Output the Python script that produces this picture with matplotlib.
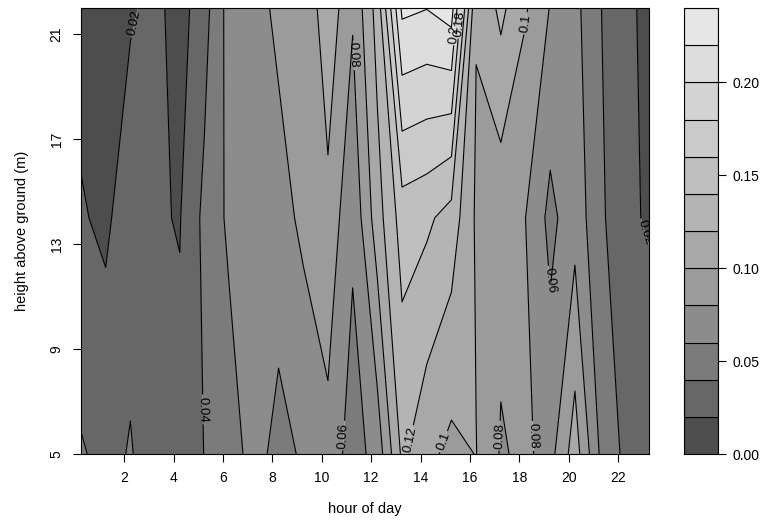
import numpy as np
import matplotlib
matplotlib.use("Agg")
import matplotlib.pyplot as plt

plt.rcParams["font.family"] = ["Liberation Sans", "DejaVu Sans"]

# grid: one column per hour, three measuring heights
hours = np.arange(24) + 0.25
heights = np.array([5.0, 14.0, 22.0])

z_5m = [0.0419, 0.0343, 0.0413, 0.030, 0.0258, 0.0405, 0.050, 0.0679, 0.0532, 0.0627,
        0.0737, 0.0505, 0.068, 0.1237, 0.1053, 0.0947, 0.1005, 0.0783, 0.0834, 0.073,
        0.110, 0.059, 0.036, 0.0355]
z_14m = [0.0218, 0.0162, 0.032, 0.022, 0.019, 0.045, 0.064, 0.070, 0.0719, 0.0844,
         0.094, 0.064, 0.111, 0.149, 0.144, 0.1316, 0.0973, 0.086, 0.080, 0.0544,
         0.0725, 0.045, 0.024, 0.018]
z_22m = [0.0132, 0.010, 0.0177, 0.0254, 0.0116, 0.0326, 0.0678, 0.072, 0.0846, 0.082,
         0.114, 0.0824, 0.128, 0.224, 0.2205, 0.229, 0.101, 0.125, 0.102, 0.079,
         0.066, 0.041, 0.028, 0.012]

levels = np.round(np.arange(0, 0.2401, 0.02), 2)
key_ticks = [0.00, 0.05, 0.10, 0.15, 0.20]
x_ticks = list(range(2, 24, 2))
y_ticks = [5, 9, 13, 17, 21]

# where the contour labels sit (data coordinates)
label_spots = [(2.56, 21.4), (11.25, 20.2), (15.45, 21.0), (15.62, 21.4), (18.4, 21.4),
               (22.96, 13.4), (19.1, 11.6), (5.18, 6.7), (10.92, 5.7), (13.75, 5.5),
               (14.84, 5.5), (17.1, 5.7), (18.9, 5.7)]


def r_gray(n, start=0.3, end=0.9, gamma=2.2):
    v = np.linspace(start ** gamma, end ** gamma, n) ** (1 / gamma)
    return [(g, g, g) for g in v]


Z = np.array([z_5m, z_14m, z_22m])
colors = r_gray(len(levels) - 1)

fig = plt.figure(figsize=(7.65, 5.25), dpi=100)
ax = fig.add_axes([81 / 765, 71 / 525, 568 / 765, 446 / 525])
key = fig.add_axes([684 / 765, 71 / 525, 34 / 765, 446 / 525])

ax.contourf(hours, heights, Z, levels=levels, colors=colors, antialiased=True)
cs = ax.contour(hours, heights, Z, levels=levels, colors="black", linewidths=0.8)
ax.clabel(cs, fmt=lambda v: f"{v:g}", fontsize=9.5, inline=True,
          manual=label_spots, inline_spacing=2)

ax.set_xlim(hours[0], hours[-1])
ax.set_ylim(heights[0], heights[-1])
ax.set_xticks(x_ticks)
ax.set_yticks(y_ticks)
ax.set_yticklabels([str(t) for t in y_ticks], rotation=90, va="center")
ax.tick_params(labelsize=10, length=5.5, width=0.8, pad=7)
ax.set_xlabel("hour of day", fontsize=10.5, labelpad=12)
ax.set_ylabel("height above ground (m)", fontsize=10.5, labelpad=14.5)
for s in ax.spines.values():
    s.set_linewidth(0.8)

# colour key
for lo, hi, c in zip(levels[:-1], levels[1:], colors):
    key.bar(0.5, hi - lo, bottom=lo, width=1, color=c, edgecolor="black", linewidth=0.8)
key.set_xlim(0, 1)
key.set_ylim(levels[0], levels[-1])
key.set_xticks([])
key.yaxis.tick_right()
key.set_yticks(key_ticks)
key.set_yticklabels([f"{t:.2f}" for t in key_ticks])
key.tick_params(labelsize=10, length=5.5, width=0.8, pad=5)
for s in key.spines.values():
    s.set_linewidth(0.8)

fig.savefig("out.png", dpi=100)
